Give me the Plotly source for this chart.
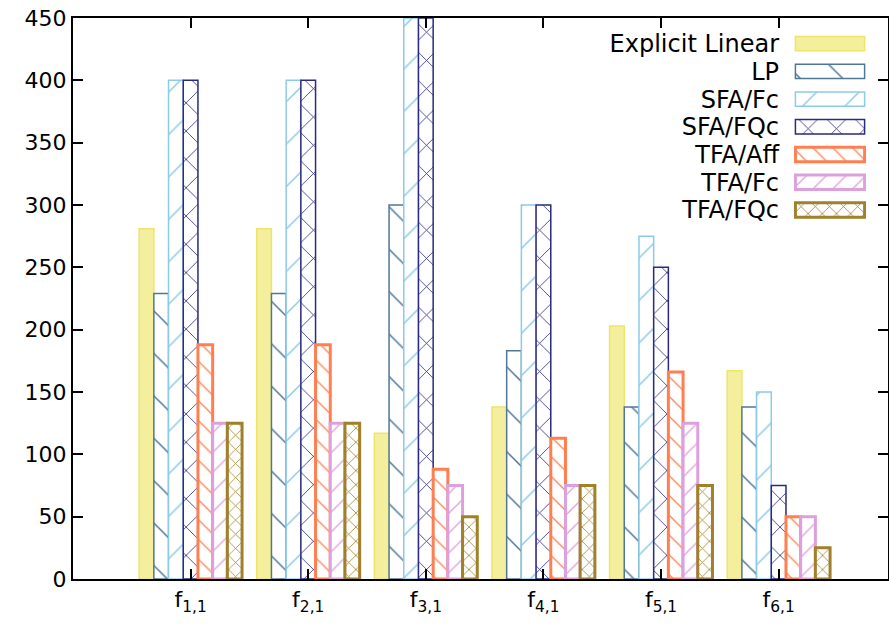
import plotly.graph_objects as go

categories = ["f<sub>1,1</sub>", "f<sub>2,1</sub>", "f<sub>3,1</sub>",
              "f<sub>4,1</sub>", "f<sub>5,1</sub>", "f<sub>6,1</sub>"]
series_names = ["Explicit Linear", "LP", "SFA/Fc", "SFA/FQc", "TFA/Aff", "TFA/Fc", "TFA/FQc"]

explicit_linear = [281, 281, 117, 138, 203, 167]
lp = [229, 229, 300, 183, 138, 138]
sfa_fc = [400, 400, 450, 300, 275, 150]
sfa_fqc = [400, 400, 450, 300, 250, 75]
tfa_aff = [188, 188, 88, 113, 166, 50]
tfa_fc = [125, 125, 75, 75, 125, 50]
tfa_fqc = [125, 125, 50, 75, 75, 25]

values = [explicit_linear, lp, sfa_fc, sfa_fqc, tfa_aff, tfa_fc, tfa_fqc]

# styles
fill_colors = ["#f4ef9c", "white", "white", "white", "white", "white", "white"]
line_colors = ["#efe46a", "#4f7896", "#8ccbe8", "#2a2a80", "#ff7f50", "#dda0dd", "#a0802a"]
line_widths = [1.5, 1.5, 1.5, 1.5, 3, 3, 3]
shapes = ["", "\\", "/", "x", "\\", "/", "x"]
sizes = [20, 30, 30, 20, 14, 14, 10]
solidity = [0.1, 0.05, 0.05, 0.08, 0.09, 0.09, 0.15]

FONT = "DejaVu Sans"
xpos = list(range(1, len(categories) + 1))


def make_marker(i):
    m = dict(color=fill_colors[i],
             line=dict(color=line_colors[i], width=line_widths[i]))
    if shapes[i]:
        m["pattern"] = dict(shape=shapes[i], fgcolor=line_colors[i], bgcolor=fill_colors[i],
                            size=sizes[i], solidity=solidity[i], fillmode="replace")
    return m


fig = go.Figure()
for i, name in enumerate(series_names):
    fig.add_trace(go.Bar(x=xpos, y=values[i], name=name, showlegend=False,
                         marker=make_marker(i)))

# custom legend (text left of sample boxes, like gnuplot)
for i, name in enumerate(series_names):
    fig.add_trace(go.Bar(
        x=[1], y=[name], orientation="h", xaxis="x2", yaxis="y2",
        width=0.52, offsetgroup="legend", showlegend=False, hoverinfo="skip",
        marker=make_marker(i),
    ))

fig.update_layout(
    width=889, height=629,
    margin=dict(l=73, r=1, t=18, b=50, autoexpand=False),
    paper_bgcolor="white", plot_bgcolor="white",
    font=dict(family=FONT, size=22, color="black"),
    barmode="group", bargap=0.125, bargroupgap=0,
    xaxis=dict(
        range=[0, 6.93], tickvals=xpos, ticktext=categories,
        showline=True, linecolor="black", linewidth=2, mirror="ticks",
        ticks="inside", ticklen=10, tickwidth=1.5, tickcolor="black",
        showgrid=False, zeroline=False, tickfont=dict(size=22),
    ),
    yaxis=dict(
        range=[0, 450], dtick=50, tick0=0,
        showline=True, linecolor="black", linewidth=2, mirror="ticks",
        ticks="inside", ticklen=10, tickwidth=1.5, tickcolor="black",
        showgrid=False, zeroline=False, tickfont=dict(size=22),
    ),
    xaxis2=dict(domain=[0.8847, 0.973], range=[-0.02, 1.02], visible=False,
                anchor="y2", fixedrange=True),
    yaxis2=dict(domain=[0.633, 0.979], anchor="x2", type="category",
                categoryorder="array", categoryarray=series_names,
                tickmode="array", tickvals=series_names, ticktext=series_names,
                autorange="reversed", showline=False, ticks="", showgrid=False,
                zeroline=False, tickfont=dict(size=24), ticklabelstandoff=14),
)

fig.write_html("out.html")
